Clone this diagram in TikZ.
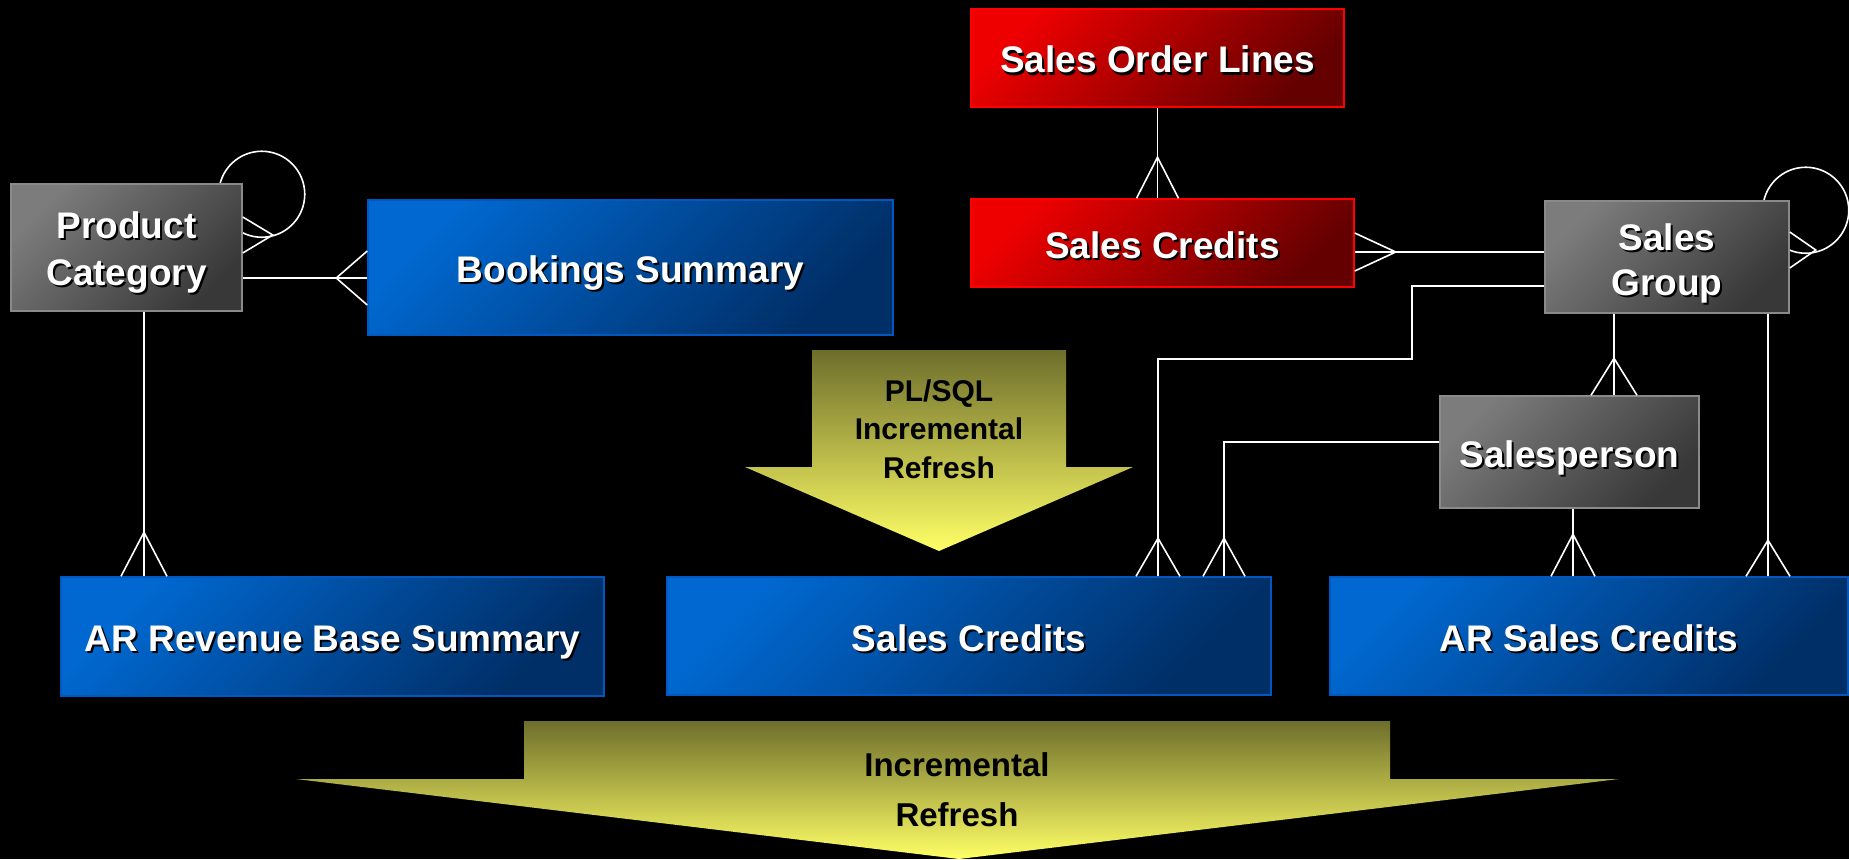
\documentclass[tikz,border=0pt]{standalone}
\usepackage{fontspec}
\setmainfont{Liberation Sans}
\usetikzlibrary{calc}

\definecolor{bluetop}{HTML}{0068D0}
\definecolor{bluebot}{HTML}{002E66}
\definecolor{blueline}{HTML}{0058C0}
\definecolor{redtop}{HTML}{EE0000}
\definecolor{redbot}{HTML}{640000}
\definecolor{redline}{HTML}{FF0000}
\definecolor{graytop}{HTML}{7C7C7C}
\definecolor{graybot}{HTML}{383838}
\definecolor{grayline}{HTML}{8A8A8A}
\definecolor{arrowtop}{HTML}{6E6E2C}
\definecolor{arrowbot}{HTML}{FFFF66}

\newcommand{\shd}[1]{\leavevmode\rlap{\kern2pt\raisebox{-2pt}{\color{black}#1}}#1}

\pgfdeclarelayer{bg}
\pgfdeclarelayer{loops}
\pgfsetlayers{bg,loops,main}

\tikzset{
    entity/.style={rectangle, line width=1.5pt, text=white, align=center, inner sep=0pt,
        text height=30pt, text depth=0pt, font=\fontsize{37}{44}\selectfont\bfseries},
    blueent/.style={entity, draw=blueline, top color=bluetop, bottom color=bluebot, shading angle=45},
    redent/.style={entity, draw=redline, top color=redtop, bottom color=redbot, shading angle=45},
    grayent/.style={entity, draw=grayline, top color=graytop, bottom color=graybot, shading angle=45},
    flowtext/.style={text=black, align=center, inner sep=0pt},
    rel/.style={draw=white, line width=1.6pt},
    pics/crow/.style 2 args={code={\draw[rel] (-#1,0) -- (0,-#2) -- (#1,0);}},
}

\begin{document}
\begin{tikzpicture}[x=1pt, y=-1pt]

    \useasboundingbox (0,0) rectangle (1849,859);
    \begin{pgfonlayer}{bg}
        \fill[black] (0,0) rectangle (1849,859);
    \end{pgfonlayer}

    \node[grayent, minimum width=231pt, minimum height=127pt, text height=75.6pt,
        font=\fontsize{37}{47}\selectfont\bfseries] (pc) at (126.5,247.5) {\shd{Product}\\\shd{Category}};
    \node[blueent, minimum width=525pt, minimum height=135pt] (bks) at (630.5,267.5) {\shd{Bookings Summary}};
    \node[redent, minimum width=373pt, minimum height=98pt] (sol) at (1157.5,58) {\shd{Sales Order Lines}};
    \node[redent, minimum width=383pt, minimum height=88pt] (scr) at (1162.5,243) {\shd{Sales Credits}};
    \node[grayent, minimum width=244pt, minimum height=112pt, text height=76.6pt,
        font=\fontsize{37}{45}\selectfont\bfseries] (sg) at (1667,257) {\shd{Sales}\\\shd{Group}};
    \node[grayent, minimum width=259pt, minimum height=112pt] (sp) at (1569.5,452) {\shd{Salesperson}};
    \node[blueent, minimum width=543pt, minimum height=119pt] (arb) at (332.5,636.5) {\shd{AR Revenue Base Summary}};
    \node[blueent, minimum width=604pt, minimum height=118pt] (scb) at (969,636) {\shd{Sales Credits}};
    \node[blueent, minimum width=518pt, minimum height=118pt] (arsc) at (1589,636) {\shd{AR Sales Credits}};

    % self references
    \begin{pgfonlayer}{loops}
        \draw[rel] ($(pc.north east)+(19,11)$) circle[radius=43];
        \draw[rel] ($(sg.north east)+(16,10)$) circle[radius=43];
    \end{pgfonlayer}
    \pic[rotate=-90] at (pc.east |- 0,235) {crow={18}{30}};
    \pic[rotate=-90] at (sg.east |- 0,250) {crow={18}{26}};

    \draw[rel] (pc.east |- 0,278) -- (bks.west |- 0,278);
    \pic[rotate=90] at (bks.west |- 0,278) {crow={27}{31}};

    \draw[rel] (pc.south -| 144,0) -- (arb.north -| 144,0);
    \pic at (arb.north -| 144,0) {crow={23}{44}};

    \draw[rel] (sol.south) -- (scr.north -| sol.south);
    \pic at (scr.north -| sol.south) {crow={21}{41}};

    \draw[rel] (scr.east |- 0,252) -- (sg.west |- 0,252);
    \pic[rotate=-90] at (scr.east |- 0,252) {crow={19}{41}};

    \draw[rel] (sg.west |- 0,286) -| (1412,359) -| (scb.north -| 1158,0);
    \pic at (scb.north -| 1158,0) {crow={22}{38}};

    \draw[rel] (sp.west |- 0,442) -| (scb.north -| 1224,0);
    \pic at (scb.north -| 1224,0) {crow={21}{38}};

    \draw[rel] (sg.south -| 1614,0) -- (sp.north -| 1614,0);
    \pic at (sp.north -| 1614,0) {crow={23}{37}};

    \draw[rel] (sp.south -| 1573,0) -- (arsc.north -| 1573,0);
    \pic at (arsc.north -| 1573,0) {crow={22}{42}};

    \draw[rel] (sg.south -| 1768,0) -- (arsc.north -| 1768,0);
    \pic at (arsc.north -| 1768,0) {crow={22}{36}};

    % refresh arrows
    \shade[top color=arrowtop, bottom color=arrowbot]
        (812,350) -- (1066,350) -- (1066,467) -- (1133,467) -- (939,551)
        -- (745,467) -- (812,467) -- cycle;
    \node[flowtext, font=\fontsize{30}{38.5}\selectfont\bfseries] (plsql) at (939,429)
        {PL/SQL\\Incremental\\Refresh};

    \shade[top color=arrowtop, bottom color=arrowbot]
        (524,721) -- (1390,721) -- (1390,779) -- (1619,779) -- (959,859)
        -- (296,779) -- (524,779) -- cycle;
    \node[flowtext, font=\fontsize{33}{50}\selectfont\bfseries] (incr) at (957,790)
        {Incremental\\Refresh};

\end{tikzpicture}
\end{document}
